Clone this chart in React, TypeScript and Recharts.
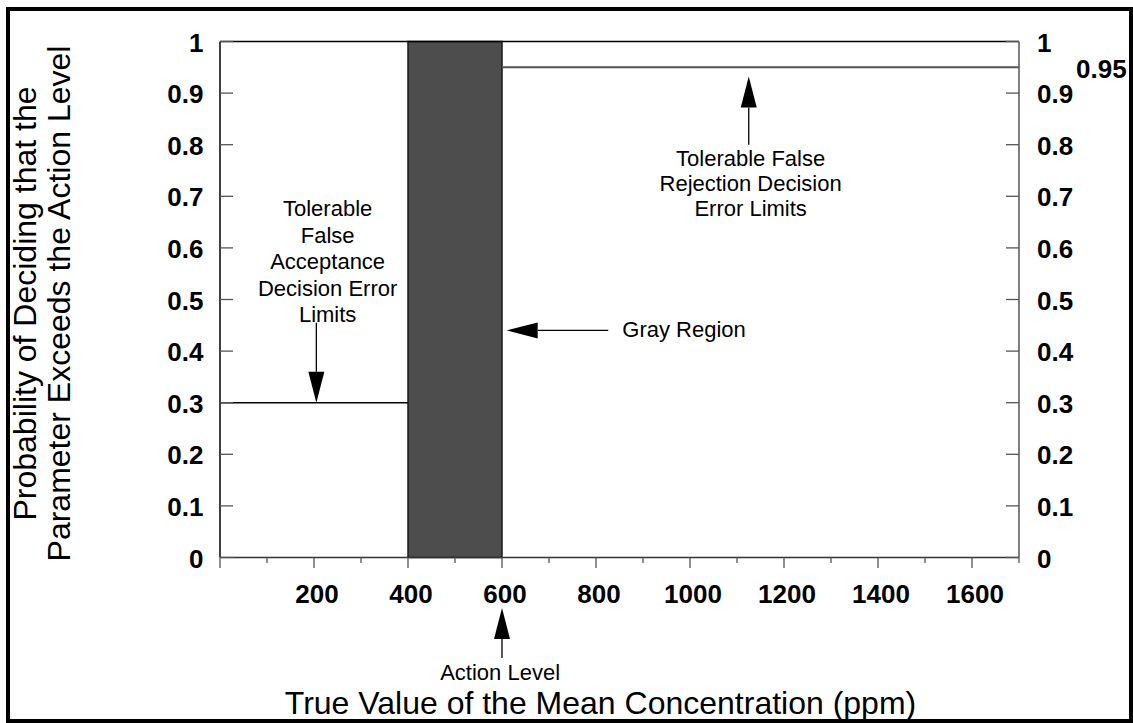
import React from 'react';
import {
  ComposedChart,
  XAxis,
  YAxis,
  Line,
  ReferenceArea,
  ReferenceLine,
  ReferenceDot,
} from 'recharts';

const FONT = '"Liberation Sans", Arial, Helvetica, sans-serif';

// ---- data ----
const xDomain = [0, 1700];
const yDomain = [0, 1];
const xTicks = [0, 100, 200, 300, 400, 500, 600, 700, 800, 900, 1000, 1100, 1200, 1300, 1400, 1500, 1600, 1700];
const xMajorStep = 200;
const yTicks = [0, 0.1, 0.2, 0.3, 0.4, 0.5, 0.6, 0.7, 0.8, 0.9, 1];
const rightExtraTick = 0.95;
const rightTicks = [...yTicks, rightExtraTick];

const acceptanceLimit = [
  { x: 0, p: 0.3 },
  { x: 400, p: 0.3 },
];
const rejectionLimit = [
  { x: 600, p: 0.95 },
  { x: 1700, p: 0.95 },
];
const grayRegion = { from: 400, to: 600 };
const topLimit = 1;

const xTitle = 'True Value of the Mean Concentration (ppm)';
const yTitleLines = ['Probability of Deciding that the', 'Parameter Exceeds the Action Level'];

// arrows: [tail, tip] in data units
const arrowAcceptance = [{ x: 205, y: 0.455 }, { x: 205, y: 0.3 }];
const arrowRejection = [{ x: 1125, y: 0.8 }, { x: 1125, y: 0.932 }];
const arrowGray = [{ x: 826, y: 0.44 }, { x: 610, y: 0.44 }];
const arrowAction = [{ x: 600, y: -0.195 }, { x: 600, y: -0.098 }];
const arrows = [arrowAcceptance, arrowRejection, arrowGray, arrowAction];

// notes: anchor (first baseline) in data units
const noteAcceptance = { x: 229, y: 0.661, anchor: 'middle', lines: ['Tolerable', 'False', 'Acceptance', 'Decision Error', 'Limits'], lh: 26.5 };
const noteRejection = { x: 1129, y: 0.758, anchor: 'middle', lines: ['Tolerable False', 'Rejection Decision', 'Error Limits'], lh: 25 };
const noteGray = { x: 856, y: 0.428, anchor: 'start', lines: ['Gray Region'], lh: 25 };
const noteAction = { x: 596, y: -0.237, anchor: 'middle', lines: ['Action Level'], lh: 25 };
const notes = [noteAcceptance, noteRejection, noteGray, noteAction];

// ---- renderers ----
const BottomTick = (props: any) => {
  const { x, y, payload } = props;
  const v = payload.value;
  const major = v % xMajorStep === 0;
  const showLabel = major && v > xDomain[0] && v < xDomain[1];
  return (
    <g>
      <line x1={x} x2={x} y1={y} y2={y + (major ? 10.5 : 5.5)} stroke="#555" strokeWidth={1.3} />
      {showLabel && (
        <text x={x + 3} y={y + 45.5} textAnchor="middle" fontFamily={FONT} fontWeight="bold" fontSize={26} fill="#000">
          {v}
        </text>
      )}
    </g>
  );
};

const LeftTick = (props: any) => {
  const { x, y, payload } = props;
  return (
    <g>
      <line x1={x} x2={x + 13} y1={y} y2={y} stroke="#555" strokeWidth={1.3} />
      <text x={x - 16.5} y={y + 10} textAnchor="end" fontFamily={FONT} fontWeight="bold" fontSize={26} fill="#000">
        {payload.value}
      </text>
    </g>
  );
};

const RightTick = (props: any) => {
  const { x, y, payload } = props;
  if (payload.value === rightExtraTick) {
    return (
      <text x={x + 57} y={y + 11} textAnchor="start" fontFamily={FONT} fontWeight="bold" fontSize={26} fill="#000">
        {payload.value}
      </text>
    );
  }
  return (
    <g>
      <line x1={x - 13} x2={x} y1={y} y2={y} stroke="#555" strokeWidth={1.3} />
      <text x={x + 18} y={y + 10} textAnchor="start" fontFamily={FONT} fontWeight="bold" fontSize={26} fill="#000">
        {payload.value}
      </text>
    </g>
  );
};

const XTitle = (props: any) => {
  const vb = props.viewBox || { x: 0, y: 0, width: 0, height: 0 };
  return (
    <text x={vb.x + vb.width / 2 - 19} y={vb.y + 156.5} textAnchor="middle" fontFamily={FONT} fontSize={32} fill="#000">
      {xTitle}
    </text>
  );
};

const YTitle = (props: any) => {
  const vb = props.viewBox || { x: 0, y: 0, width: 0, height: 0 };
  const cy = vb.y + vb.height / 2 + 4;
  const bx = [vb.x + 36, vb.x + 70];
  return (
    <g>
      {yTitleLines.map((t, i) => (
        <text
          key={i}
          transform={`translate(${bx[i]},${cy}) rotate(-90)`}
          textAnchor="middle"
          fontFamily={FONT}
          fontSize={32}
          fill="#000"
        >
          {t}
        </text>
      ))}
    </g>
  );
};

const ArrowShape = (props: any) => {
  const { x1, y1, x2, y2 } = props;
  if ([x1, y1, x2, y2].some((v) => typeof v !== 'number' || isNaN(v))) return <g />;
  const dx = x2 - x1;
  const dy = y2 - y1;
  const len = Math.sqrt(dx * dx + dy * dy) || 1;
  const ux = dx / len;
  const uy = dy / len;
  const headL = 31;
  const headW = 8;
  const bx = x2 - ux * headL;
  const by = y2 - uy * headL;
  const px = -uy * headW;
  const py = ux * headW;
  return (
    <g>
      <line x1={x1} y1={y1} x2={bx} y2={by} stroke="#000" strokeWidth={1.3} />
      <polygon points={`${x2},${y2} ${bx + px},${by + py} ${bx - px},${by - py}`} fill="#000" />
    </g>
  );
};

const makeNoteShape = (note: any) => (props: any) => {
  const { cx, cy } = props;
  return (
    <g>
      {note.lines.map((t: string, i: number) => (
        <text
          key={i}
          x={cx}
          y={cy + i * note.lh}
          textAnchor={note.anchor}
          fontFamily={FONT}
          fontSize={22}
          fill="#000"
        >
          {t}
        </text>
      ))}
    </g>
  );
};

export default function App() {
  return (
    <div style={{ position: 'absolute', left: 0, top: 0, width: 1133, height: 723, background: '#fff' }}>
      <div
        style={{
          position: 'absolute',
          left: 6,
          top: 7,
          width: 1127,
          height: 716,
          border: '4px solid #000',
          boxSizing: 'border-box',
        }}
      />
      <div style={{ position: 'absolute', left: 0, top: 0 }}>
        <ComposedChart width={1133} height={723} margin={{ top: 41.5, right: 0, bottom: 0, left: 0 }}>
          <XAxis
            dataKey="x"
            type="number"
            domain={xDomain}
            ticks={xTicks}
            interval={0}
            allowDataOverflow
            height={165.5}
            tickSize={0}
            tickMargin={0}
            tickLine={false}
            tick={<BottomTick />}
            axisLine={{ stroke: '#333', strokeWidth: 1.5 }}
            label={XTitle}
          />
          <YAxis
            yAxisId="left"
            type="number"
            domain={yDomain}
            ticks={yTicks}
            interval={0}
            allowDataOverflow
            width={220}
            tickSize={0}
            tickMargin={0}
            tickLine={false}
            tick={<LeftTick />}
            axisLine={{ stroke: '#000', strokeWidth: 1.5 }}
            label={YTitle}
          />
          <YAxis
            yAxisId="right"
            orientation="right"
            type="number"
            domain={yDomain}
            ticks={rightTicks}
            interval={0}
            allowDataOverflow
            width={114}
            tickSize={0}
            tickMargin={0}
            tickLine={false}
            tick={<RightTick />}
            axisLine={{ stroke: '#555', strokeWidth: 1.5 }}
          />
          <ReferenceLine yAxisId="left" y={topLimit} stroke="#000" strokeWidth={1.5} />
          <ReferenceArea
            yAxisId="left"
            x1={grayRegion.from}
            x2={grayRegion.to}
            y1={yDomain[0]}
            y2={yDomain[1]}
            fill="#4d4d4d"
            fillOpacity={1}
            stroke="#1a1a1a"
            strokeWidth={1.5}
          />
          <Line
            yAxisId="left"
            data={acceptanceLimit}
            dataKey="p"
            type="linear"
            stroke="#000"
            strokeWidth={1.5}
            dot={false}
            activeDot={false}
            isAnimationActive={false}
          />
          <Line
            yAxisId="left"
            data={rejectionLimit}
            dataKey="p"
            type="linear"
            stroke="#555"
            strokeWidth={2}
            dot={false}
            activeDot={false}
            isAnimationActive={false}
          />
          {arrows.map((a, i) => (
            <ReferenceLine
              key={'a' + i}
              yAxisId="left"
              segment={a}
              ifOverflow="visible"
              shape={ArrowShape}
            />
          ))}
          {notes.map((n, i) => (
            <ReferenceDot
              key={'n' + i}
              yAxisId="left"
              x={n.x}
              y={n.y}
              r={0}
              ifOverflow="visible"
              shape={makeNoteShape(n)}
            />
          ))}
        </ComposedChart>
      </div>
    </div>
  );
}
